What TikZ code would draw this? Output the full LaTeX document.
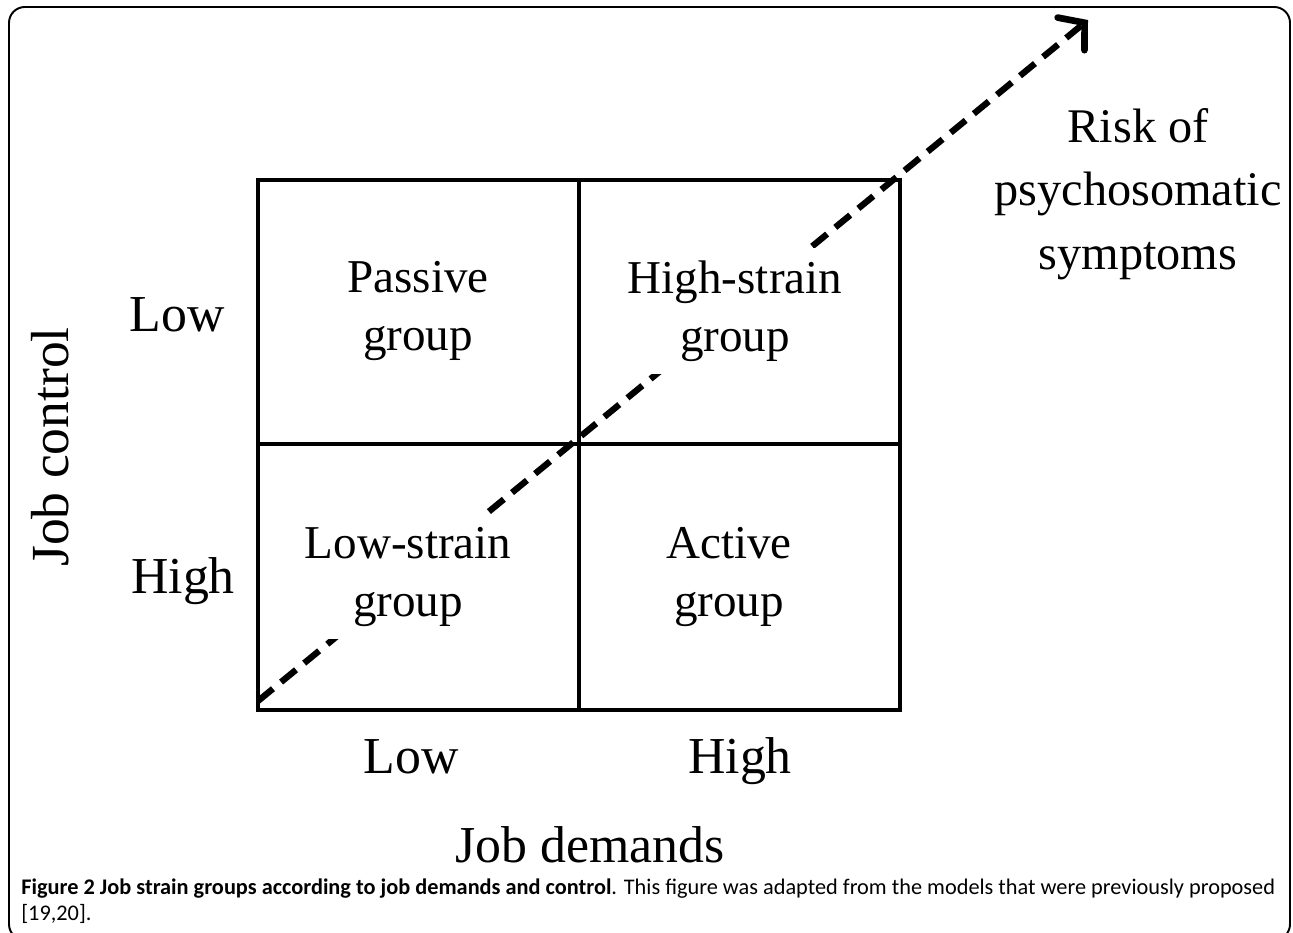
\documentclass[tikz,border=0pt]{standalone}
\usepackage{fontspec}
\setmainfont{Liberation Serif}
\newfontfamily\capfont{Carlito}
\usetikzlibrary{arrows.meta}

\tikzset{
  celltext/.style={font=\fontsize{26.8}{33}\selectfont, align=center, fill=white, inner sep=7pt},
  axislabel/.style={font=\fontsize{29.5}{35}\selectfont},
  riskline/.style={line width=3.6pt, dash pattern=on 11pt off 6pt,
    -{Straight Barb[length=10pt,width=24pt,line width=3.8pt,line cap=round]}}
}

\begin{document}
\begin{tikzpicture}[x=0.02cm,y=-0.02cm]
\useasboundingbox (0,0) rectangle (1293,932);
% frame
\draw[line width=1.1pt, rounded corners=9pt] (9,7) rectangle (1290,940);
% the 2x2 table
\draw[line width=1.9pt] (258,180) rectangle (900,710);
\draw[line width=1.9pt] (579,180) -- (579,710);
\draw[line width=1.9pt] (258,444) -- (900,444);
% risk arrow
\coordinate (start) at (258,701);
\coordinate (tip) at (1088,20);
\draw[riskline] (start) -- (tip);
% cells
\node[celltext] (passive) at (418,311) {Passive\\group};
\node[celltext] (highstrain) at (735,311) {High-strain\\group};
\node[celltext] (lowstrain) at (408,577) {Low-strain\\group};
\node[celltext] (active) at (729,577) {Active\\group};
% axes
\node[axislabel, anchor=base] (ctrllow) at (177,331) {Low};
\node[axislabel, anchor=base] (ctrlhigh) at (183,593) {High};
\node[axislabel, anchor=base] (demlow) at (411,773) {Low};
\node[axislabel, anchor=base] (demhigh) at (740,773) {High};
\node[axislabel, anchor=base] (demands) at (590,862) {Job demands};
\node[axislabel, rotate=90, font=\fontsize{30.5}{35}\selectfont] (control) at (50,447) {Job control};
\node[align=center, font=\fontsize{27.5}{36}\selectfont] (risk) at (1138,194) {Risk of\\psychosomatic\\symptoms};
% caption
\node[anchor=north west, inner sep=0pt, text width=25.08cm, align=justify,
  font=\capfont\fontsize{12.7}{14.8}\selectfont] (caption) at (21,878)
  {{\bfseries Figure 2 Job strain groups according to job demands and control}. This figure was adapted from the models that were previously proposed [19,20].};
\end{tikzpicture}
\end{document}
